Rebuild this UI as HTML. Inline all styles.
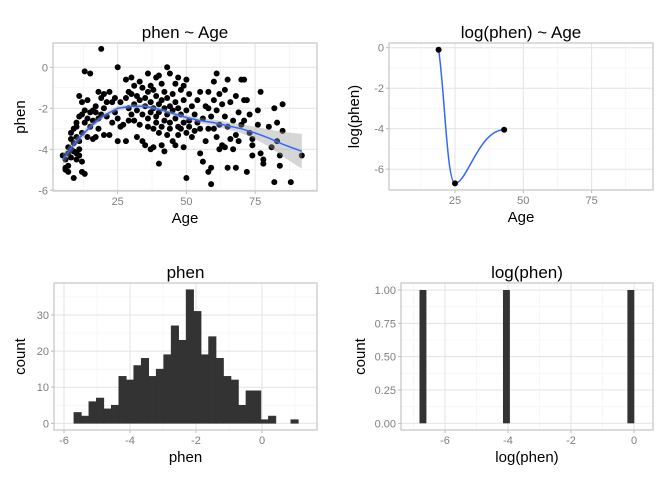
<!DOCTYPE html>
<html><head><meta charset="utf-8"><style>
body{margin:0;background:#fff;}
svg{display:block;font-family:"Liberation Sans",sans-serif;}
.tick{fill:#7f7f7f;font-size:11px;}
.ttl{fill:#000;font-size:17px;}
.axt{fill:#000;font-size:15px;}
</style></head><body>
<svg id="c" width="672" height="480"></svg>
<script>
// ---- data ----
const scatterAge=[5,6,6,6,7,7,7,7,8,8,8,8,9,9,9,9,10,10,10,10,10,11,11,11,11,11,12,12,12,12,12,13,13,13,13,14,14,14,15,15,15,16,16,16,17,17,17,18,18,18,19,19,19,20,20,20,21,21,22,22,23,23,24,24,25,25,25,26,26,27,28,28,28,29,29,29,30,30,30,31,31,31,32,32,32,33,33,33,34,34,34,35,35,35,36,36,36,36,37,37,37,37,38,38,38,38,39,39,39,39,40,40,40,40,40,41,41,41,41,42,42,42,42,43,43,43,43,44,44,44,44,45,45,45,46,46,46,46,47,47,47,47,48,48,48,49,49,49,49,50,50,50,50,51,51,51,52,52,53,53,54,54,55,55,55,56,56,57,57,58,58,58,58,59,59,59,60,60,60,61,61,61,62,62,62,63,63,64,64,64,65,65,65,66,66,67,67,68,68,68,69,69,70,70,71,71,71,72,72,73,73,74,74,74,76,76,77,77,78,78,80,81,82,82,83,83,84,84,85,85,88,92];
const scatterPhen=[-4.3,-4.9,-5.0,-4.5,-4.2,-4.8,-3.9,-5.1,-3.5,-4.0,-4.4,-3.2,-3.7,-4.1,-5.4,-3.0,-4.2,-4.5,-3.4,-2.9,-2.7,-4.0,-4.3,-3.6,-2.4,-1.4,-1.7,-2.3,-3.2,-5.1,-4.6,-5.2,-2.1,-2.7,-0.2,-2.5,-3.4,-1.6,-0.3,-2.2,-2.9,-2.1,-3.5,-2.6,-2.2,-3.4,-1.9,-1.2,-2.5,-3.0,0.9,-1.5,-2.3,-3.3,-1.3,-2.0,-1.7,-2.4,-1.2,-3.3,-2.7,-1.7,-1.5,-2.2,-3.6,0.0,-2.5,-1.7,-2.9,-2.8,-0.6,-3.6,-1.5,-1.2,-2.0,-2.6,-0.5,-1.3,-2.3,-0.9,-1.8,-2.6,-1.4,-2.1,-3.4,-0.7,-1.6,-2.8,-1.0,-2.3,-3.6,-1.5,-1.9,-3.8,-0.3,-1.2,-2.5,-2.9,-0.9,-1.7,-2.2,-4.0,-1.1,-2.0,-3.0,-3.9,-0.5,-1.4,-2.4,-2.7,-0.4,-1.8,-2.2,-3.2,-4.7,-0.8,-1.6,-2.9,-3.8,-1.2,-2.0,-2.6,-4.1,0.0,-1.5,-2.3,-3.3,-0.3,-1.9,-2.7,-3.0,-1.3,-2.1,-3.6,-0.8,-1.7,-2.5,-3.8,-0.5,-2.0,-2.9,-3.3,-1.1,-2.3,-3.0,-0.9,-1.6,-2.7,-3.9,-0.6,-2.1,-3.2,-5.4,-1.3,-2.6,-2.9,-1.9,-3.4,-2.3,-3.1,-1.6,-2.7,-1.2,-4.2,-3.0,-2.5,-4.6,-1.9,-3.6,-1.2,-2.0,-5.1,-3.0,-4.9,-5.7,-2.4,-0.7,-1.6,-3.0,-0.3,-2.1,-3.4,-1.3,-2.8,-4.0,-1.8,-3.8,-1.1,-2.4,-3.9,-0.6,-2.9,-4.9,-1.7,-3.5,-2.6,-4.0,-1.4,-3.3,-4.9,-2.2,-3.6,-0.6,-2.8,-0.6,-1.6,-2.6,-5.1,-1.6,-2.3,-3.2,-3.5,-3.8,-4.3,-2.1,-2.8,-4.2,-1.2,-4.5,-4.7,-2.9,-3.9,-2.0,-5.6,-3.6,-2.7,-4.8,-4.3,-1.8,-3.1,-5.6,-4.3];
const fitAge=[5,10,15,20,25,30,35,40,45,50,55,60,65,70,75,80,85,92];
const fitPhen=[-4.5,-3.6,-2.9,-2.35,-2.0,-1.9,-1.9,-2.05,-2.25,-2.45,-2.6,-2.7,-2.85,-3.0,-3.2,-3.45,-3.75,-4.1];
const fitSE=[0.3,0.2,0.15,0.12,0.12,0.1,0.1,0.1,0.1,0.12,0.13,0.15,0.18,0.22,0.3,0.42,0.6,0.85];
const logAge=[19,25,43];
const logPhen=[-0.1,-6.7,-4.05];
const histLo=-5.7, histBin=0.2267;
const histCounts=[3,2,6,7,4,5,13,12,16,18,13,15,19,27,23,37,31,19,24,18,13,12,5,9,9,1,2,0,0,1];
const logHistX=[-6.7,-4.05,-0.1];
const logHistCounts=[1,1,1];
const ageTicks=[25,50,75];
const phenTicks=[0,-2,-4,-6];
const logPhenTicks=[0,-2,-4,-6];
const countTicks=[0,10,20,30];
const hxTicks=[-6,-4,-2,0];
const logCountTicks=[0,0.25,0.5,0.75,1];

// ---- helpers ----
const svg=document.getElementById('c');
const NS='http://www.w3.org/2000/svg';
function mk(tag,attrs,parent){const e=document.createElementNS(NS,tag);for(const k in attrs)e.setAttribute(k,attrs[k]);(parent||svg).appendChild(e);return e;}
function lin(d0,d1,r0,r1){return v=>r0+(v-d0)*(r1-r0)/(d1-d0);}

function panel(o){
  const g=mk('g',{});
  
  
  mk('rect',{x:o.x0,y:o.y0,width:o.x1-o.x0,height:o.y1-o.y0,fill:'#fff'},g);
  o.xMinor.forEach(v=>mk('line',{x1:o.sx(v),x2:o.sx(v),y1:o.y0,y2:o.y1,stroke:'#f2f2f2','stroke-width':0.6},g));
  o.yMinor.forEach(v=>mk('line',{y1:o.sy(v),y2:o.sy(v),x1:o.x0,x2:o.x1,stroke:'#f2f2f2','stroke-width':0.6},g));
  o.xt.forEach(v=>mk('line',{x1:o.sx(v),x2:o.sx(v),y1:o.y0,y2:o.y1,stroke:'#e3e3e3','stroke-width':1},g));
  o.yt.forEach(v=>mk('line',{y1:o.sy(v),y2:o.sy(v),x1:o.x0,x2:o.x1,stroke:'#e3e3e3','stroke-width':1},g));
  const xa=mk('g',{},g);
  
  
  o.xt.forEach(v=>{mk('line',{x1:o.sx(v),x2:o.sx(v),y1:o.y1,y2:o.y1+3,stroke:'#bbb'},xa);
    const t=mk('text',{x:o.sx(v),y:o.y1+14,'text-anchor':'middle',class:'tick'},xa);t.textContent=o.xf?o.xf(v):v;});
  const ya=mk('g',{},g);
  
  
  o.yt.forEach(v=>{mk('line',{x1:o.x0-3,x2:o.x0,y1:o.sy(v),y2:o.sy(v),stroke:'#bbb'},ya);
    const t=mk('text',{x:o.x0-5,y:o.sy(v)+4,'text-anchor':'end',class:'tick'},ya);t.textContent=o.yf?o.yf(v):v;});
  const tt=mk('text',{x:(o.x0+o.x1)/2,y:o.y0-5,'text-anchor':'middle',class:'ttl'},g);tt.textContent=o.title;
  
  
  const xt=mk('text',{x:(o.x0+o.x1)/2,y:o.y1+32,'text-anchor':'middle',class:'axt'},g);xt.textContent=o.xl;
  
  
  const yx=o.ylx, yy=(o.y0+o.y1)/2;
  const yt=mk('text',{x:yx,y:yy,'text-anchor':'middle',class:'axt',transform:`rotate(-90 ${yx} ${yy})`},g);yt.textContent=o.yl;
  
  
  return g;
}
function border(o,g){mk('rect',{x:o.x0,y:o.y0,width:o.x1-o.x0,height:o.y1-o.y0,fill:'none',stroke:'#c4c4c4','stroke-width':1.2},g);}

// ---- panel 1: scatter ----
const p1={name:'phen-vs-age-panel',x0:53,x1:317,y0:43,y1:191,title:'phen ~ Age',xl:'Age',yl:'phen',ylx:25,
  sx:lin(0,25,49,117.7),sy:lin(0,-2,67.3,108.3),xt:ageTicks,yt:phenTicks,xMinor:[12.5,37.5,62.5,87.5],yMinor:[1,-1,-3,-5]};
const g1=panel(p1);
scatterAge.forEach((a,i)=>{const c=mk('circle',{cx:p1.sx(a),cy:p1.sy(scatterPhen[i]),r:3,fill:'#000'},g1);
  
  });
let band='';fitAge.forEach((a,i)=>band+=(i?'L':'M')+p1.sx(a)+','+p1.sy(fitPhen[i]+fitSE[i]));
for(let i=fitAge.length-1;i>=0;i--)band+='L'+p1.sx(fitAge[i])+','+p1.sy(fitPhen[i]-fitSE[i]);
const b=mk('path',{d:band+'Z',fill:'#999','fill-opacity':0.4},g1);


let fl='';fitAge.forEach((a,i)=>fl+=(i?'L':'M')+p1.sx(a)+','+p1.sy(fitPhen[i]));
const f=mk('path',{d:fl,fill:'none',stroke:'#3366ff','stroke-width':1.5},g1);


border(p1,g1);

// ---- panel 2: log scatter ----
const p2={name:'logphen-vs-age-panel',x0:389,x1:653,y0:43,y1:190,title:'log(phen) ~ Age',xl:'Age',yl:'log(phen)',ylx:359,
  sx:lin(0,25,386.7,455),sy:lin(0,-2,47.7,88.2),xt:ageTicks,yt:logPhenTicks,xMinor:[12.5,37.5,62.5,87.5],yMinor:[-1,-3,-5]};
const g2=panel(p2);
const cx=logAge.map(p2.sx), cy=logPhen.map(p2.sy);
const sd=`M${cx[0]},${cy[0]} C${cx[0]+6},${cy[0]+40} ${cx[1]-8},${cy[1]} ${cx[1]},${cy[1]} C${cx[1]+12},${cy[1]} ${cx[2]-25},${cy[2]} ${cx[2]},${cy[2]}`;
const s2=mk('path',{d:sd,fill:'none',stroke:'#3366ff','stroke-width':1.5},g2);


logAge.forEach((a,i)=>{const c=mk('circle',{cx:p2.sx(a),cy:p2.sy(logPhen[i]),r:3,fill:'#000'},g2);
  
  });
border(p2,g2);

// ---- panel 3: histogram ----
const p3={name:'phen-histogram-panel',x0:54,x1:317,y0:283,y1:430,title:'phen',xl:'phen',yl:'count',ylx:25,
  sx:lin(-6,0,64,262),sy:lin(0,30,423.3,315),xt:hxTicks,yt:countTicks,xMinor:[-5,-3,-1,1],yMinor:[5,15,25,35]};
const g3=panel(p3);
histCounts.forEach((c,i)=>{if(!c)return;const xl=histLo+i*histBin;
  const r=mk('rect',{x:p3.sx(xl),y:p3.sy(c),width:p3.sx(xl+histBin)-p3.sx(xl),height:p3.sy(0)-p3.sy(c),fill:'#333',stroke:'#333','stroke-width':0.6},g3);
  
  });
border(p3,g3);

// ---- panel 4: log histogram ----
const p4={name:'logphen-histogram-panel',x0:401,x1:653,y0:283,y1:430,title:'log(phen)',xl:'log(phen)',yl:'count',ylx:365,
  sx:lin(-6,0,445,634),sy:lin(0,1,423.3,290),xt:hxTicks,yt:logCountTicks,xMinor:[-7,-5,-3,-1],yMinor:[0.125,0.375,0.625,0.875],
  yf:v=>v.toFixed(2)};
const g4=panel(p4);
logHistX.forEach((x,i)=>{const w=0.11;
  const r=mk('rect',{x:p4.sx(x-w),y:p4.sy(logHistCounts[i]),width:p4.sx(x+w)-p4.sx(x-w),height:p4.sy(0)-p4.sy(logHistCounts[i]),fill:'#333'},g4);
  
  });
border(p4,g4);
</script>
</body></html>
